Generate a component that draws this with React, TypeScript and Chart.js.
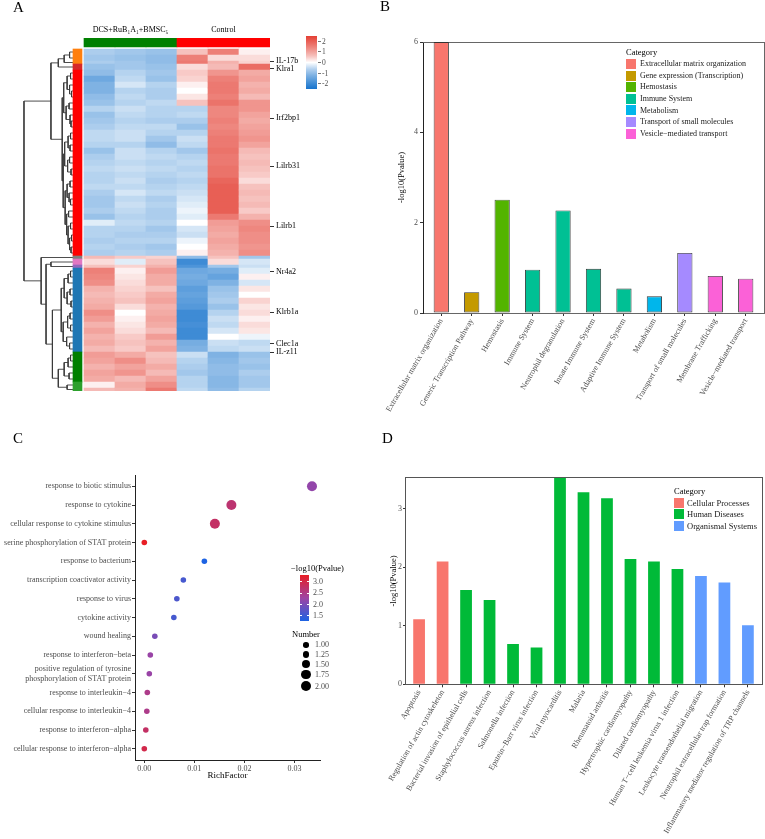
import React, { useEffect, useRef } from 'react';
import { Chart, registerables } from 'chart.js';
Chart.register(...registerables);

const SERIF = '"Liberation Serif", "Times New Roman", Times, serif';
const TICK_GRAY = '#4d4d4d';
Chart.defaults.font.family = SERIF;

// ---------------- Panel A : heatmap ----------------
const sampleNames = ['DCS1', 'DCS2', 'DCS3', 'Control1', 'Control2', 'Control3'];
const sampleGroup = [0, 0, 0, 1, 1, 1];
const groupNames = ['DCS+RuB₁A₁+BMSC₅', 'Control'];
const groupColors = ['#008000', '#FF0000'];

// height (in gene units) of every heatmap row block
const rowSize = [
  2, 2, 1,
  2,
  2, 2, 2, 2, 2, 2, 2, 2, 2, 2, 2, 2, 2, 2, 2, 2, 2, 2, 2, 2, 2, 2, 2, 2, 2, 2, 2, 2, 2, 2, 2,
  1, 2, 1,
  2, 2, 2, 2, 2, 2, 2, 2, 2, 2, 2, 2, 2, 2,
  2, 2, 2, 2, 2,
  2, 1,
];
const rowCluster = [
  0, 0, 0,
  1,
  2, 2, 2, 2, 2, 2, 2, 2, 2, 2, 2, 2, 2, 2, 2, 2, 2, 2, 2, 2, 2, 2, 2, 2, 2, 2, 2, 2, 2, 2, 2,
  3, 4, 5,
  6, 6, 6, 6, 6, 6, 6, 6, 6, 6, 6, 6, 6, 6,
  7, 7, 7, 7, 7,
  8, 8,
];
const clusterColors = ['#FF7F0E', '#D62728', '#FF0000', '#7F7F7F', '#E377C2', '#9467BD', '#1F77B4', '#008000', '#2CA02C'];

const dcs1 = [
  -0.7, -0.8, -0.7, -0.9, -1.0, -1.4, -1.2, -1.2, -1.0, -0.9,
  -0.6, -0.9, -0.8, -0.7, -0.5, -0.5, -0.6, -0.9, -0.7, -0.6,
  -0.5, -0.6, -0.6, -0.5, -0.7, -0.8, -0.8, -0.7, -0.9, -0.2,
  -0.6, -0.6, -0.7, -0.6, -0.7, 0.7, 0.3, 0.6, 1.5, 1.4,
  1.3, 0.8, 0.7, 0.8, 0.9, 1.3, 1.1, 0.8, 1.0, 0.8,
  0.9, 0.7, 1.1, 1.0, 0.8, 1.0, 0.9, 0.1, 0.7,
];
const dcs2 = [
  -0.8, -0.9, -0.8, -0.8, -0.6, -0.5, -0.3, -0.6, -0.5, -0.6,
  -0.4, -0.5, -0.6, -0.5, -0.4, -0.4, -0.6, -0.4, -0.4, -0.5,
  -0.4, -0.5, -0.4, -0.5, -0.3, -0.5, -0.4, -0.5, -0.6, -0.5,
  -0.6, -0.7, -0.6, -0.7, -0.6, 0.5, -0.2, 0.4, 0.1, 0.2,
  0.3, 0.4, 0.5, 0.6, 0.3, 0.0, 0.1, 0.2, 0.3, 0.5,
  0.6, 0.5, 0.9, 1.3, 1.0, 1.2, 0.7, 0.9, 0.8,
];
const dcs3 = [
  -0.9, -1.0, -1.0, -0.9, -0.8, -0.9, -0.6, -0.7, -0.7, -0.5,
  -0.6, -0.6, -0.7, -0.5, -0.6, -0.8, -1.0, -0.6, -0.5, -0.6,
  -0.5, -0.6, -0.7, -0.6, -0.5, -0.7, -0.6, -0.7, -0.7, -0.6,
  -0.8, -0.7, -0.6, -0.8, -0.7, 0.4, 0.6, 0.8, 1.1, 0.9,
  0.9, 0.6, 0.9, 1.0, 0.8, 0.9, 1.0, 0.9, 0.7, 1.1,
  0.8, 1.0, 0.6, 0.7, 0.9, 0.7, 1.0, 1.3, 1.6,
];
const ctl1 = [
  0.6, 1.5, 1.6, 0.3, 0.5, 0.4, 0.1, 0.0, 0.2, 0.6,
  -0.6, -0.5, -0.7, -0.9, -0.6, -0.4, -0.5, -0.8, -0.6, -0.5,
  -0.6, -0.5, -0.6, -0.5, -0.4, -0.3, -0.2, -0.1, -0.2, 0.0,
  -0.3, -0.4, -0.1, 0.0, 0.1, -1.0, -2.0, -1.8, -1.4, -1.3,
  -1.4, -1.6, -1.5, -1.6, -1.7, -2.0, -2.0, -1.9, -2.0, -2.0,
  -1.3, -1.2, -0.4, -0.6, -0.7, -0.8, -0.6, -0.6, -0.5,
];
const ctl2 = [
  1.5, 0.3, 0.8, 0.7, 1.2, 1.5, 1.6, 1.6, 1.5, 1.7,
  1.4, 1.4, 1.5, 1.4, 1.5, 1.6, 1.6, 1.7, 1.6, 1.6,
  1.7, 1.7, 1.9, 2.0, 2.0, 2.0, 2.0, 2.0, 1.6, 1.1,
  1.0, 0.9, 1.0, 0.9, 0.8, 0.6, 0.3, -0.8, -1.3, -1.5,
  -1.2, -0.9, -0.8, -0.7, -0.9, -0.6, -0.4, -0.5, -0.3, 0.0,
  -0.4, -0.5, -1.2, -1.1, -1.0, -1.0, -1.1, -1.1, -1.0,
];
const ctl3 = [
  0.1, 0.3, 0.4, 1.8, 0.9, 1.0, 0.8, 0.9, 0.7, 1.2,
  1.2, 1.0, 0.9, 1.0, 1.1, 1.2, 1.0, 0.7, 0.6, 0.7,
  0.6, 0.5, 0.3, 0.6, 0.7, 0.6, 0.7, 0.5, 0.8, 1.3,
  1.4, 1.3, 1.3, 1.2, 1.3, -0.8, -0.3, -0.4, -0.2, 0.1,
  -0.3, 0.2, 0.0, 0.4, 0.2, 0.3, 0.1, 0.3, 0.2, -0.1,
  -0.5, -0.4, -0.9, -0.8, -0.9, -0.7, -0.8, -0.8, -0.6,
];

const geneNames = ['IL-17b', 'Klra1', 'Irf2bp1', 'Lilrb31', 'Lilrb1', 'Nr4a2', 'Klrb1a', 'Clec1a', 'IL-z11'];
const genePos = [4.1, 6.6, 23, 39, 59, 74.3, 87.7, 98.3, 101];

// dendrogram: [mergeHeight, left, right]; leaves are row indices
const dendroOrange = [1.8, [0.7, 0, 1], 2];
const dendroRed = [2.2,
  [1.9, [1.2, [0.5, 4, 5], [0.7, 6, [0.3, 7, 8]]], [1.4, [0.8, 9, 10], [0.6, 11, [0.4, 12, 13]]]],
  [2.0,
    [1.7, [1.0, [0.5, 14, 15], [0.6, 16, 17]], [1.1, [0.7, 18, 19], [0.4, 20, 21]]],
    [1.6, [1.2, [0.6, 22, 23], [0.8, 24, [0.5, 25, 26]]], [1.3, [0.9, 27, 28], [1.0, [0.5, 29, 30], [0.7, [0.3, 31, 32], [0.4, 33, 34]]]]]]];
const dendroBlue = [2.4,
  [1.8, [1.0, [0.5, 38, 39], 40], [1.2, [0.6, 41, 42], [0.4, 43, 44]]],
  [2.0, [1.1, [0.6, 45, 46], [0.5, 47, 48]], [1.3, 49, [0.7, 50, 51]]]];
const dendroGreen = [1.8, [1.0, [0.5, 52, 53], 54], [0.8, 55, 56]];
const dendroLightGreen = [1.2, 57, 58];
const dendrogram = [10,
  [4.5, [3.0, dendroOrange, 3], dendroRed],
  [6.5, 35, [5.5, [4.5, 36, 37], [4.2, dendroBlue, [3.0, dendroGreen, dendroLightGreen]]]]];

const heatLegendTicks = [2, 1, 0, -1, -2];
const HEAT_LIMIT = 2.5;
const HEAT_LOW = [24, 116, 205];
const HEAT_HIGH = [228, 64, 52];

// ---------------- Panel B : Reactome bars ----------------
const reactomeTerms = ['Extracellular matrix organization', 'Generic Transcription Pathway', 'Hemostasis', 'Immune System',
  'Neutrophil degranulation', 'Innate Immune System', 'Adaptive Immune System', 'Metabolism',
  'Transport of small molecules', 'Membrane Trafficking', 'Vesicle−mediated transport'];
const reactomeValues = [6.0, 0.46, 2.51, 0.96, 2.27, 0.98, 0.54, 0.37, 1.33, 0.82, 0.76];
const reactomeCategory = [0, 1, 2, 3, 3, 3, 3, 4, 5, 6, 6];
const reactomeCategories = ['Extracellular matrix organization', 'Gene expression (Transcription)', 'Hemostasis',
  'Immune System', 'Metabolism', 'Transport of small molecules', 'Vesicle−mediated transport'];
const reactomeColors = ['#F8766D', '#C49A00', '#53B400', '#00C094', '#00B6EB', '#A58AFF', '#FB61D7'];
const reactomeTicks = [0, 2, 4, 6];

// ---------------- Panel C : GO dot plot ----------------
const goTerms = ['response to biotic stimulus', 'response to cytokine', 'cellular response to cytokine stimulus',
  'serine phosphorylation of STAT protein', 'response to bacterium', 'transcription coactivator activity',
  'response to virus', 'cytokine activity', 'wound healing', 'response to interferon−beta',
  ['positive regulation of tyrosine', 'phosphorylation of STAT protein'], 'response to interleukin−4',
  'cellular response to interleukin−4', 'response to interferon−alpha', 'cellular response to interferon−alpha'];
const goRichFactor = [0.0335, 0.0174, 0.0141, 0.0000, 0.0120, 0.0078, 0.0065, 0.0059, 0.0021, 0.0012, 0.0010, 0.0006, 0.0005, 0.0003, 0.0000];
const goLogP = [2.2, 2.7, 2.8, 3.3, 1.28, 1.6, 1.65, 1.6, 2.0, 2.25, 2.25, 2.5, 2.5, 2.8, 3.0];
const goNumber = [2, 2, 2, 1, 1, 1, 1, 1, 1, 1, 1, 1, 1, 1, 1];
const goXTicks = [0, 0.01, 0.02, 0.03];
const pLegendTicks = [3.0, 2.5, 2.0, 1.5];
const numberLegend = [1.0, 1.25, 1.5, 1.75, 2.0];

// ---------------- Panel D : KEGG bars ----------------
const keggTerms = ['Apoptosis', 'Regulation of actin cytoskeleton', 'Bacterial invasion of epithelial cells',
  'Staphylococcus aureus infection', 'Salmonella infection', 'Epstein−Barr virus infection', 'Viral myocarditis',
  'Malaria', 'Rheumatoid arthritis', 'Hypertrophic cardiomyopathy', 'Dilated cardiomyopathy',
  'Human T−cell leukemia virus 1 infection', 'Leukocyte transendothelial migration',
  'Neutrophil extracellular trap formation', 'Inflammatory mediator regulation of TRP channels'];
const keggValues = [1.11, 2.10, 1.61, 1.44, 0.69, 0.63, 3.53, 3.28, 3.18, 2.14, 2.10, 1.97, 1.85, 1.74, 1.01];
const keggCategory = [0, 0, 1, 1, 1, 1, 1, 1, 1, 1, 1, 1, 2, 2, 2];
const keggCategories = ['Cellular Processes', 'Human Diseases', 'Organismal Systems'];
const keggColors = ['#F8766D', '#00BA38', '#619CFF'];
const keggTicks = [0, 1, 2, 3];

// ---------------- helpers ----------------
function heatColor(v: number): string {
  const t = Math.max(-1, Math.min(1, v / HEAT_LIMIT));
  const end = t < 0 ? HEAT_LOW : HEAT_HIGH;
  const a = Math.pow(Math.abs(t), 0.8);
  const c = end.map((e) => Math.round(255 + (e - 255) * a));
  return `rgb(${c[0]},${c[1]},${c[2]})`;
}

const P_MIN = Math.min(...goLogP);
const P_MAX = Math.max(...goLogP);
const P_STOPS = [[29, 99, 227], [158, 67, 164], [232, 30, 37]];
function pColor(v: number): string {
  const t = Math.max(0, Math.min(1, (v - P_MIN) / (P_MAX - P_MIN)));
  const seg = t < 0.5 ? 0 : 1;
  const u = t < 0.5 ? t * 2 : (t - 0.5) * 2;
  const a = P_STOPS[seg], b = P_STOPS[seg + 1];
  const c = a.map((x, i) => Math.round(x + (b[i] - x) * u));
  return `rgb(${c[0]},${c[1]},${c[2]})`;
}
function numRadius(n: number): number {
  return Math.sqrt(7.84 + (n - 1) * 17.16);
}

const font = (size: number) => ({ family: SERIF, size });
const fixedTicks = (vals: number[]) => (s: any) => { s.ticks = vals.map((v) => ({ value: v })); };
const idx = (n: number) => Array.from({ length: n }, (_, i) => i + 1);

const base = {
  responsive: false,
  animation: false as const,
  events: [] as any[],
  plugins: { legend: { display: false }, tooltip: { enabled: false } },
};

type TreeNode = any;
function dendroSegments(tree: TreeNode, leafY: number[]) {
  const pts: { x: number; y: number | null }[] = [];
  const walk = (n: TreeNode): [number, number] => {
    if (typeof n === 'number') return [leafY[n], 0];
    const [h, a, b] = n;
    const [ya, ha] = walk(a);
    const [yb, hb] = walk(b);
    pts.push({ x: ha, y: ya }, { x: h, y: ya }, { x: h, y: yb }, { x: hb, y: yb }, { x: h, y: null });
    return [(ya + yb) / 2, h];
  };
  walk(tree);
  return pts;
}

// ---------------- chart configs ----------------
function heatmapConfig(): any {
  const rowStart: number[] = [];
  let acc = 0;
  rowSize.forEach((s) => { rowStart.push(acc); acc += s; });
  const total = acc;
  const columns = [dcs1, dcs2, dcs3, ctl1, ctl2, ctl3];
  const cells: any[] = [];
  const cellColors: string[] = [];
  columns.forEach((col, c) => col.forEach((v, r) => {
    cells.push({ x: c, y: [rowStart[r], rowStart[r] + rowSize[r]] });
    cellColors.push(heatColor(v));
  }));
  const annoTop = -3.7;
  const colAnno = sampleNames.map((_, c) => ({ x: c, y: [annoTop, -0.67] }));
  const colAnnoColors = sampleGroup.map((g) => groupColors[g]);
  const clusterBars: any[] = [];
  rowCluster.forEach((k, r) => {
    const last = clusterBars[clusterBars.length - 1];
    if (last && last.k === k) last.y[1] = rowStart[r] + rowSize[r];
    else clusterBars.push({ x: -1, y: [rowStart[r], rowStart[r] + rowSize[r]], k });
  });
  const clusterBarColors = clusterBars.map((b) => clusterColors[b.k]);
  const leafY = rowStart.map((s, r) => s + rowSize[r] / 2);
  const segs = dendroSegments(dendrogram, leafY);

  return {
    type: 'bar',
    data: {
      datasets: [
        { type: 'bar', data: cells, backgroundColor: cellColors, xAxisID: 'x', yAxisID: 'y', grouped: false, barPercentage: 1, categoryPercentage: 1, borderWidth: 0 },
        { type: 'bar', data: colAnno, backgroundColor: colAnnoColors, xAxisID: 'x', yAxisID: 'y', grouped: false, barPercentage: 1, categoryPercentage: 1, borderWidth: 0 },
        { type: 'bar', data: clusterBars, backgroundColor: clusterBarColors, xAxisID: 'xa', yAxisID: 'y', grouped: false, barThickness: 9, borderWidth: 0 },
        { type: 'line', data: segs, xAxisID: 'xd', yAxisID: 'y', borderColor: '#3a3a3a', borderWidth: 0.9, pointRadius: 0, spanGaps: false, tension: 0, fill: false },
      ],
    },
    options: {
      ...base,
      layout: { padding: { left: 22, right: 0, top: 0, bottom: 9 } },
      scales: {
        x: { type: 'linear', display: false, offset: false, min: -2.5, max: 5.5, bounds: 'data', afterBuildTicks: fixedTicks([0, 1, 2, 3, 4, 5]) },
        xa: { type: 'linear', display: false, offset: false, min: -2.79, max: 5.21, bounds: 'data', afterBuildTicks: fixedTicks([-1]) },
        xd: { type: 'linear', display: false, offset: false, reverse: true, min: -40.204, max: 10.408, bounds: 'data' },
        xt: {
          type: 'linear', position: 'top', offset: false, min: -2.5, max: 5.5, bounds: 'data',
          afterBuildTicks: fixedTicks([1, 4]),
          ticks: { callback: (_v: any, i: number) => groupNames[i], font: font(8), color: '#000', padding: 3, autoSkip: false, minRotation: 0, maxRotation: 0 },
          grid: { display: false, drawTicks: false, offset: false }, border: { display: false },
          afterFit: (s: any) => { s.height = 37.9; },
        },
        y: { type: 'linear', display: false, reverse: true, min: annoTop, max: total, bounds: 'data' },
        yr: {
          type: 'linear', position: 'right', reverse: true, min: annoTop, max: total, bounds: 'data',
          afterBuildTicks: fixedTicks(genePos),
          ticks: { callback: (_v: any, i: number) => geneNames[i], font: font(8), color: '#000', padding: 2, autoSkip: false },
          grid: { display: true, drawOnChartArea: false, drawTicks: true, tickLength: 4, color: '#333' },
          border: { display: false },
          afterFit: (s: any) => { s.width = 50; },
        },
      },
    },
  };
}

function barConfig(opts: {
  labels: string[]; values: number[]; colors: string[]; yMax: number; yTicks: number[];
  yWidth: number; xHeight: number; titlePad: number; padTop: number; padRight: number;
  border: string | null; leftColor: string; frameColor: string; tickLen: number; tickPad: number;
}): any {
  const n = opts.labels.length;
  return {
    type: 'bar',
    data: {
      datasets: [{
        data: opts.values.map((v, i) => ({ x: i + 1, y: v })),
        backgroundColor: opts.colors,
        borderColor: opts.border || 'rgba(0,0,0,0)',
        borderWidth: opts.border ? 0.9 : 0,
        borderSkipped: false,
        barPercentage: 0.5, categoryPercentage: 1,
      }],
    },
    options: {
      ...base,
      layout: { padding: { top: opts.padTop, right: opts.padRight, left: 0, bottom: 0 } },
      scales: {
        x: {
          type: 'linear', offset: false, min: 0.4, max: n + 0.6, bounds: 'data',
          afterBuildTicks: fixedTicks(idx(n)),
          ticks: { callback: (_v: any, i: number) => opts.labels[i], autoSkip: false, minRotation: 60, maxRotation: 60, font: font(8), color: TICK_GRAY, padding: 1 },
          grid: { display: true, offset: false, drawOnChartArea: false, drawTicks: true, tickLength: 3, color: '#333' },
          border: { display: true, color: opts.frameColor, width: 1 },
          afterFit: (s: any) => { s.height = opts.xHeight; },
        },
        y: {
          type: 'linear', min: 0, max: opts.yMax, bounds: 'data',
          afterBuildTicks: fixedTicks(opts.yTicks),
          ticks: { font: font(8), color: TICK_GRAY, padding: opts.tickPad },
          grid: { display: true, drawOnChartArea: false, drawTicks: true, tickLength: opts.tickLen, color: '#333' },
          border: { display: true, color: opts.leftColor, width: 1 },
          title: { display: true, text: '-log10(Pvalue)', font: font(8.5), color: '#000', padding: { top: opts.titlePad, bottom: 0 } },
          afterFit: (s: any) => { s.width = opts.yWidth; },
        },
        xTop: {
          type: 'linear', position: 'top', offset: false, min: 0, max: 1,
          ticks: { display: false }, grid: { display: false, drawTicks: false, offset: false },
          border: { display: true, color: opts.frameColor, width: 1 },
          afterFit: (s: any) => { s.height = 0; },
        },
        yRight: {
          type: 'linear', position: 'right', min: 0, max: 1,
          ticks: { display: false }, grid: { display: false, drawTicks: false },
          border: { display: true, color: opts.frameColor, width: 1 },
          afterFit: (s: any) => { s.width = 0; },
        },
      },
    },
  };
}

function reactomeConfig(): any {
  return barConfig({
    labels: reactomeTerms, values: reactomeValues,
    colors: reactomeCategory.map((k) => reactomeColors[k]),
    yMax: Math.max(...reactomeValues), yTicks: reactomeTicks,
    yWidth: 53, xHeight: 117, titlePad: 27, padTop: 12, padRight: 1,
    border: '#333', leftColor: '#222', frameColor: '#666', tickLen: 3, tickPad: 2,
  });
}

function keggConfig(): any {
  return barConfig({
    labels: keggTerms, values: keggValues,
    colors: keggCategory.map((k) => keggColors[k]),
    yMax: Math.max(...keggValues), yTicks: keggTicks,
    yWidth: 30, xHeight: 154.7, titlePad: 13.2, padTop: 37.7, padRight: 3,
    border: null, leftColor: '#555', frameColor: '#555', tickLen: 2, tickPad: 1,
  });
}

function goConfig(): any {
  return {
    type: 'scatter',
    data: {
      datasets: [{
        data: goRichFactor.map((x, i) => ({ x, y: i + 1 })),
        pointRadius: goNumber.map(numRadius),
        pointBackgroundColor: goLogP.map(pColor),
        pointBorderWidth: 0,
      }],
    },
    options: {
      ...base,
      layout: { padding: { top: 35, right: 40, left: 0, bottom: 0 } },
      scales: {
        x: {
          type: 'linear', min: -0.00186, max: 0.0351, bounds: 'data',
          afterBuildTicks: fixedTicks(goXTicks),
          ticks: { callback: (v: any) => Number(v).toFixed(2), font: font(8), color: TICK_GRAY, padding: 1 },
          grid: { display: true, drawOnChartArea: false, drawTicks: true, tickLength: 3, color: '#333' },
          border: { display: true, color: '#222', width: 1 },
          title: { display: true, text: 'RichFactor', font: font(9), color: '#000', padding: { top: 0, bottom: 18.6 } },
          afterFit: (s: any) => { s.height = 40; },
        },
        y: {
          type: 'linear', reverse: true, min: 0.4, max: goTerms.length + 0.6, bounds: 'data',
          afterBuildTicks: fixedTicks(idx(goTerms.length)),
          ticks: { callback: (_v: any, i: number) => goTerms[i], autoSkip: false, font: font(8), color: TICK_GRAY, padding: 1 },
          grid: { display: true, drawOnChartArea: false, drawTicks: true, tickLength: 3, color: '#333' },
          border: { display: true, color: '#222', width: 1 },
          afterFit: (s: any) => { s.width = 135; },
        },
      },
    },
  };
}

// ---------------- components ----------------
function ChartCanvas({ left, top, width, height, make }: { left: number; top: number; width: number; height: number; make: () => any }) {
  const ref = useRef<HTMLCanvasElement>(null);
  useEffect(() => {
    const chart = new Chart(ref.current as HTMLCanvasElement, make());
    return () => chart.destroy();
  }, []);
  return <canvas ref={ref} width={width} height={height} style={{ position: 'absolute', left, top, width, height }} />;
}

function Txt({ x, y, size = 8, children, color = '#000' }: { x: number; y: number; size?: number; children: any; color?: string }) {
  return (
    <div style={{ position: 'absolute', left: x, top: y - size * 0.6, fontSize: size, lineHeight: `${size * 1.2}px`, whiteSpace: 'nowrap', color }}>
      {children}
    </div>
  );
}

function Box({ x, y, w, h, bg, extra }: { x: number; y: number; w: number; h: number; bg: string; extra?: any }) {
  return <div style={{ position: 'absolute', left: x, top: y, width: w, height: h, background: bg, ...(extra || {}) }} />;
}

function PanelLetter({ x, y, children }: { x: number; y: number; children: any }) {
  return <div style={{ position: 'absolute', left: x, top: y, fontSize: 15, lineHeight: '18px', color: '#000' }}>{children}</div>;
}

function HeatLegend() {
  const top = 36, h = 53, left = 306, w = 11;
  const stops = [2.5, 1.875, 1.25, 0.625, 0, -0.625, -1.25, -1.875, -2.5].map((v, i) => `${heatColor(v)} ${i * 12.5}%`).join(',');
  return (
    <>
      <Box x={left} y={top} w={w} h={h} bg={`linear-gradient(to bottom, ${stops})`} />
      {heatLegendTicks.map((t) => {
        const y = top + ((HEAT_LIMIT - t) / (2 * HEAT_LIMIT)) * h;
        return (
          <React.Fragment key={t}>
            <Box x={left + w + 1} y={y - 0.5} w={3} h={1} bg="#777" />
            <Txt x={left + w + 5} y={y} size={7.5} color={TICK_GRAY}>{String(t)}</Txt>
          </React.Fragment>
        );
      })}
    </>
  );
}

function CategoryLegend({ x, titleY, firstY, step, names, colors, textX, size }: { x: number; titleY: number; firstY: number; step: number; names: string[]; colors: string[]; textX: number; size: number }) {
  return (
    <>
      <Txt x={x} y={titleY} size={8.5}>Category</Txt>
      {names.map((n, i) => (
        <React.Fragment key={n}>
          <Box x={x} y={firstY + i * step - 5} w={10} h={10} bg={colors[i]} />
          <Txt x={textX} y={firstY + i * step} size={size} color="#1a1a1a">{n}</Txt>
        </React.Fragment>
      ))}
    </>
  );
}

function GoLegends() {
  const left = 300, top = 575, w = 9, h = 46;
  const stops = [0, 0.25, 0.5, 0.75, 1].map((f) => `${pColor(P_MAX - f * (P_MAX - P_MIN))} ${f * 100}%`).join(',');
  const circleY = [645, 654.7, 664.3, 674.3, 686.3];
  return (
    <>
      <Txt x={291} y={568.3} size={8.5}>−log10(Pvalue)</Txt>
      <Box x={left} y={top} w={w} h={h} bg={`linear-gradient(to bottom, ${stops})`} />
      {pLegendTicks.map((t) => {
        const y = top + ((P_MAX - t) / (P_MAX - P_MIN)) * h;
        return (
          <React.Fragment key={t}>
            <Box x={left} y={y - 0.5} w={2} h={1} bg="#fff" />
            <Box x={left + w - 2} y={y - 0.5} w={2} h={1} bg="#fff" />
            <Txt x={313} y={y} size={8} color={TICK_GRAY}>{t.toFixed(1)}</Txt>
          </React.Fragment>
        );
      })}
      <Txt x={292} y={634} size={8.5}>Number</Txt>
      {numberLegend.map((n, i) => {
        const r = numRadius(n);
        return (
          <React.Fragment key={n}>
            <div style={{ position: 'absolute', left: 306 - r, top: circleY[i] - r, width: 2 * r, height: 2 * r, borderRadius: '50%', background: '#000' }} />
            <Txt x={315} y={circleY[i]} size={8} color={TICK_GRAY}>{n.toFixed(2)}</Txt>
          </React.Fragment>
        );
      })}
    </>
  );
}

export default function App() {
  return (
    <div style={{ position: 'absolute', left: 0, top: 0, width: 765, height: 839, background: '#fff', fontFamily: SERIF, overflow: 'hidden' }}>
      <ChartCanvas left={0} top={0} width={320} height={400} make={heatmapConfig} />
      <ChartCanvas left={370} top={30} width={395} height={400} make={reactomeConfig} />
      <ChartCanvas left={0} top={440} width={360} height={360} make={goConfig} />
      <ChartCanvas left={375} top={440} width={390} height={399} make={keggConfig} />

      <PanelLetter x={13} y={-2.4}>A</PanelLetter>
      <PanelLetter x={380} y={-3.4}>B</PanelLetter>
      <PanelLetter x={13} y={429.2}>C</PanelLetter>
      <PanelLetter x={382} y={429}>D</PanelLetter>

      <HeatLegend />
      <CategoryLegend x={626} titleY={52.3} firstY={64} step={11.6} names={reactomeCategories} colors={reactomeColors} textX={640} size={8} />
      <GoLegends />
      <CategoryLegend x={674} titleY={491} firstY={502.7} step={11.5} names={keggCategories} colors={keggColors} textX={687} size={8.5} />
    </div>
  );
}
